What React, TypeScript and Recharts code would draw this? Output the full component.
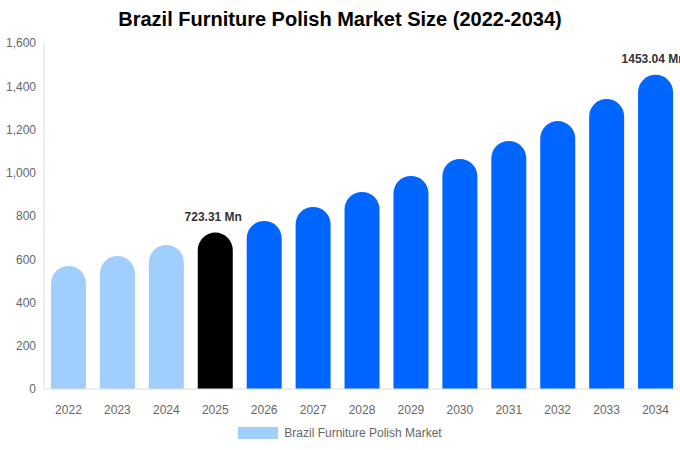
import { BarChart, Bar, XAxis, YAxis, Cell, LabelList } from "recharts";

const years = ["2022", "2023", "2024", "2025", "2026", "2027", "2028", "2029", "2030", "2031", "2032", "2033", "2034"];
const marketSize = [569, 615, 666, 723.31, 777, 842, 911, 985, 1064, 1147, 1239, 1341, 1453.04];
const yTicks = [0, 200, 400, 600, 800, 1000, 1200, 1400, 1600];
const labelledYears = ["2025", "2034"];

const PAST = "#a0cfff";
const CURRENT = "#000000";
const FORECAST = "#0066ff";

const data = years.map((year, i) => ({ year, value: marketSize[i] }));

function barColor(year: string) {
  if (year < "2025") return PAST;
  if (year === "2025") return CURRENT;
  return FORECAST;
}

function ValueLabel(props: any) {
  const { x, y, width, value, index } = props;
  if (!labelledYears.includes(years[index])) return null;
  return (
    <text
      x={x + width / 2 - 2}
      y={y - 12}
      textAnchor="middle"
      fontSize={12}
      fontWeight="bold"
      fill="#333"
      fontFamily="Liberation Sans, Arial, sans-serif"
    >
      {value.toFixed(2)} Mn
    </text>
  );
}

export default function App() {
  return (
    <div
      style={{
        position: "absolute",
        left: 0,
        top: 0,
        width: 680,
        height: 450,
        overflow: "hidden",
        background: "#fff",
        fontFamily: "Liberation Sans, Arial, sans-serif",
      }}
    >
      <div
        style={{
          position: "absolute",
          top: 8,
          left: 0,
          width: 680,
          textAlign: "center",
          fontSize: 20,
          fontWeight: "bold",
          color: "#000",
        }}
      >
        Brazil Furniture Polish Market Size (2022-2034)
      </div>
      <BarChart
        width={680}
        height={450}
        data={data}
        margin={{ top: 43, right: 0, bottom: 31, left: 0 }}
        barCategoryGap={7}
        style={{ overflow: "visible" }}
      >
        <XAxis
          dataKey="year"
          axisLine={{ stroke: "#ddd" }}
          tickLine={false}
          tick={{ fontSize: 12, fill: "#666" }}
          tickMargin={10}
        />
        <YAxis
          width={44}
          domain={[0, 1600]}
          ticks={yTicks}
          axisLine={{ stroke: "#ddd" }}
          tickLine={false}
          tick={{ fontSize: 12, fill: "#666" }}
          tickFormatter={(v: number) => v.toLocaleString("en-US")}
        />
        <Bar dataKey="value" barSize={35} radius={[18, 18, 0, 0]} isAnimationActive={false}>
          {data.map((d) => (
            <Cell key={d.year} fill={barColor(d.year)} />
          ))}
          <LabelList dataKey="value" content={ValueLabel} />
        </Bar>
      </BarChart>
      <div
        style={{
          position: "absolute",
          top: 426,
          left: 0,
          width: 680,
          display: "flex",
          justifyContent: "center",
          alignItems: "center",
          fontSize: 12,
          color: "#666",
        }}
      >
        <span style={{ display: "inline-block", width: 40, height: 12, background: PAST, marginRight: 6 }} />
        Brazil Furniture Polish Market
      </div>
    </div>
  );
}
